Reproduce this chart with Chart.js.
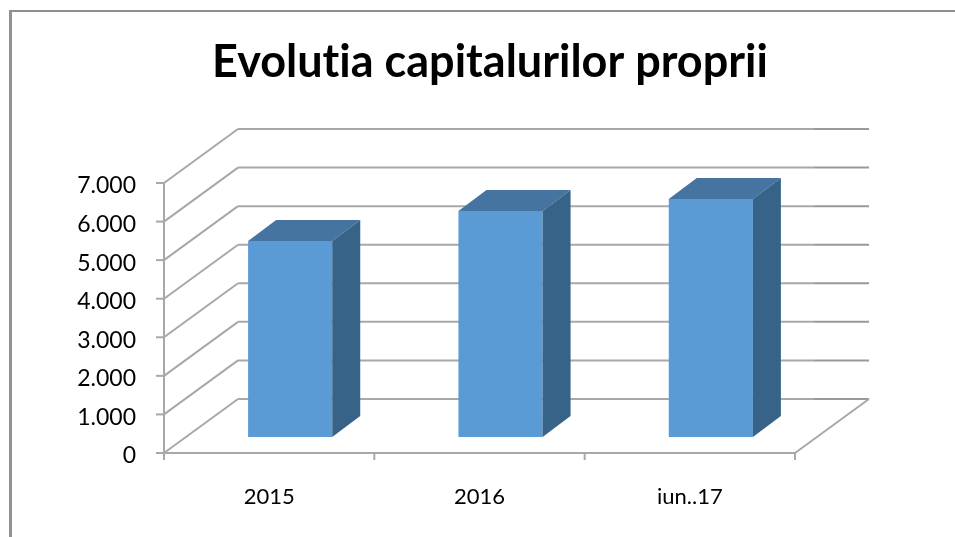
<!DOCTYPE html>
<html>
<head>
<meta charset="utf-8">
<style>
    html, body { margin: 0; padding: 0; background: #fff; overflow: hidden; }
    #wrap { position: relative; width: 955px; height: 537px; }
    #frame { position: absolute; left: 9px; top: 10px; right: 0; bottom: 0;
             border-left: 3px solid #929292; border-top: 2px solid #8f8f8f; }
    canvas { position: absolute; left: 0; top: 0; }
</style>
<script src="https://cdn.jsdelivr.net/npm/chart.js@4/dist/chart.umd.min.js"></script>
</head>
<body>
<div id="wrap">
    <div id="frame"></div>
    <canvas id="capitalChart" width="955" height="537"></canvas>
</div>
<script>
const categories = ["2015", "2016", "iun..17"];
const capital = [5080, 5860, 6170];
const yTicks = [0, 1000, 2000, 3000, 4000, 5000, 6000, 7000];
const chartTitle = "Evolutia capitalurilor proprii";

// depth of the fake 3D box, in pixels
const wallDx = 74, wallDy = -54;
const barShiftX = 21, barShiftY = -16;
const barDx = 28, barDy = -21;
const gridColor = "#a8a8a8";

function line(ctx, x1, y1, x2, y2) {
    ctx.beginPath();
    ctx.moveTo(x1, y1);
    ctx.lineTo(x2, y2);
    ctx.stroke();
}

function face(ctx, pts, color) {
    ctx.fillStyle = color;
    ctx.beginPath();
    pts.forEach((p, i) => i ? ctx.lineTo(p[0], p[1]) : ctx.moveTo(p[0], p[1]));
    ctx.closePath();
    ctx.fill();
}

const box3d = {
    id: "box3d",
    afterLayout(chart) {
        // title is centred on the frame, not on the plot
        chart.titleBlock.left = 25;
        chart.titleBlock.right = 955;
        // no ligatures in the title
        chart.ctx.textRendering = "optimizeSpeed";
        // y labels sit a little under their gridline
        const ys = chart.scales.y;
        const drawLabels = ys.drawLabels;
        ys.drawLabels = function (area) {
            chart.ctx.save();
            chart.ctx.translate(0, 3);
            drawLabels.call(ys, area);
            chart.ctx.restore();
        };
    },
    beforeDatasetsDraw(chart) {
        const ctx = chart.ctx;
        const x = chart.scales.x, y = chart.scales.y;
        ctx.save();
        ctx.lineWidth = 2;
        ctx.strokeStyle = gridColor;
        yTicks.forEach(v => {
            const py = y.getPixelForValue(v);
            line(ctx, x.left, py, x.left + wallDx, py + wallDy);
            line(ctx, x.left + wallDx, py + wallDy, x.right + wallDx - 55, py + wallDy);
            ctx.strokeStyle = "#999999";
            line(ctx, x.right + wallDx - 55, py + wallDy, x.right + wallDx, py + wallDy);
            ctx.strokeStyle = gridColor;
        });
        // front edge of the floor and its right side
        const y0 = y.getPixelForValue(0);
        line(ctx, x.right, y0, x.right + wallDx, y0 + wallDy);
        // axes and ticks
        line(ctx, x.left, y.top, x.left, y0 + 7);
        line(ctx, x.left - 8, y0, x.right, y0);
        yTicks.forEach(v => {
            const py = y.getPixelForValue(v);
            line(ctx, x.left - 8, py, x.left, py);
        });
        for (let i = 0; i <= categories.length; i++) {
            const px = x.left + (x.right - x.left) * i / categories.length;
            line(ctx, px, y0, px, y0 + 7);
        }
        ctx.restore();
    },
    beforeDatasetDraw(chart) {
        chart.ctx.save();
        chart.ctx.translate(barShiftX, barShiftY);
    },
    afterDatasetDraw(chart) {
        const ctx = chart.ctx;
        chart.getDatasetMeta(0).data.forEach(bar => {
            const l = bar.x - bar.width / 2, r = bar.x + bar.width / 2;
            const t = bar.y, b = bar.base;
            face(ctx, [[l, t], [r, t], [r + barDx, t + barDy], [l + barDx, t + barDy]], "#44749f");
            face(ctx, [[r, t], [r + barDx, t + barDy], [r + barDx, b + barDy], [r, b]], "#376389");
        });
        ctx.restore();
    }
};

new Chart(document.getElementById("capitalChart"), {
    type: "bar",
    data: {
        labels: categories,
        datasets: [{
            data: capital,
            backgroundColor: "#5b9bd5",
            barPercentage: 0.8,
            categoryPercentage: 0.5
        }]
    },
    options: {
        responsive: false,
        animation: false,
        layout: { padding: { left: 0, right: 160, top: 0, bottom: 0 } },
        plugins: {
            legend: { display: false },
            tooltip: { enabled: false },
            title: {
                display: true,
                text: chartTitle,
                color: "#000",
                font: { family: "Lato", size: 45, weight: "bold", lineHeight: 1.2 },
                padding: { top: 35, bottom: 94 }
            }
        },
        scales: {
            x: {
                grid: { display: false },
                border: { display: false },
                afterFit: s => { s.height = 84; },
                ticks: { color: "#000", padding: 23, font: { family: "Lato", size: 22 }, maxRotation: 0 }
            },
            y: {
                min: 0,
                max: 7000,
                grid: { display: false },
                border: { display: false },
                afterFit: s => { s.width = 164; },
                afterBuildTicks: s => { s.ticks = yTicks.map(v => ({ value: v })); },
                ticks: {
                    color: "#000",
                    padding: 20,
                    font: { family: "Lato", size: 23 },
                    callback: v => v === 0 ? "0" : (v / 1000) + ".000"
                }
            }
        }
    },
    plugins: [box3d]
});
</script>
</body>
</html>
